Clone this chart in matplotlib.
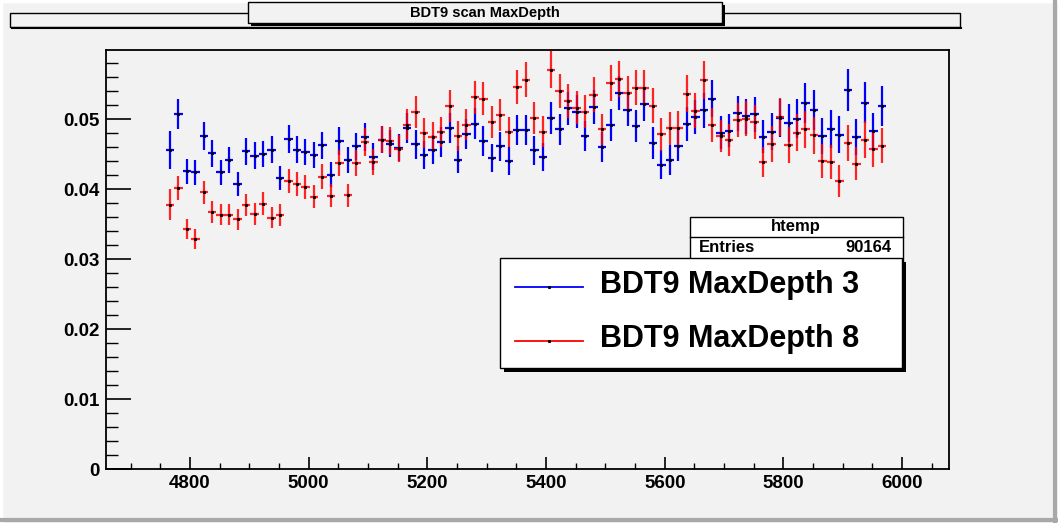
import numpy as np
import matplotlib
matplotlib.use("Agg")
import matplotlib.pyplot as plt
from matplotlib.patches import Rectangle
from matplotlib.lines import Line2D
from matplotlib.ticker import MultipleLocator

plt.rcParams['font.family'] = ['Liberation Sans', 'DejaVu Sans']

# ---------------- data ----------------
bin_low_edge = 4759.0
bin_width = 14.28

depth3 = [0.04557, 0.05071, 0.04257, 0.04243, 0.04757, 0.04514, 0.04243, 0.04424, 0.04076, 0.04543, 0.04481, 0.04505, 0.04567, 0.04162,
          0.04714, 0.04567, 0.04533, 0.04486, 0.04629, 0.04210, 0.04686, 0.04414, 0.04614, 0.04748, 0.04467, 0.04710, 0.04652, 0.04590,
          0.04876, 0.04643, 0.04486, 0.04567, 0.04676, 0.04876, 0.04424, 0.04786, 0.04933, 0.04686, 0.04443, 0.04614, 0.04400, 0.04843, 0.04843,
          0.04557, 0.04462, 0.05019, 0.04857, 0.05157, 0.05105, 0.04762, 0.05176, 0.04605, 0.04919, 0.05376, 0.05133, 0.04900, 0.05214,
          0.04667, 0.04352, 0.04419, 0.04624, 0.04938, 0.05033, 0.05129, 0.05295, 0.04810, 0.04833, 0.05086, 0.05043, 0.05071, 0.04752,
          0.04819, 0.05019, 0.04952, 0.05010, 0.05233, 0.05129, 0.04762, 0.04862, 0.04781, 0.05414, 0.04748, 0.05238, 0.04829, 0.05195]

depth8 = [0.03776, 0.04014, 0.03433, 0.03290, 0.03953, 0.03676, 0.03638, 0.03638, 0.03567, 0.03776, 0.03647, 0.03795, 0.03590, 0.03629,
          0.04119, 0.04076, 0.04033, 0.03890, 0.04181, 0.03905, 0.04376, 0.03914, 0.04376, 0.04676, 0.04390, 0.04710, 0.04686, 0.04581,
          0.04924, 0.05105, 0.04800, 0.04748, 0.04814, 0.05190, 0.04762, 0.04924, 0.05314, 0.05295, 0.04962, 0.05062, 0.04814, 0.05457, 0.05562,
          0.05019, 0.04819, 0.05710, 0.05405, 0.05257, 0.05167, 0.05105, 0.05352, 0.04857, 0.05519, 0.05571, 0.05376, 0.05448, 0.05448,
          0.05195, 0.04786, 0.04871, 0.04876, 0.05367, 0.05119, 0.05562, 0.04919, 0.04762, 0.04705, 0.04990, 0.05010, 0.04962, 0.04395,
          0.04643, 0.05033, 0.04629, 0.04805, 0.04857, 0.04771, 0.04405, 0.04386, 0.04119, 0.04662, 0.04367, 0.04710, 0.04576, 0.04624]

# relative size of the vertical error bars, read region by region
rel_err = ([0.059] + [0.042] * 13 + [0.042] * 14 + [0.045] * 15 +
           [0.046] * 14 + [0.049] * 14 + [0.055] * 14)

x_centers = bin_low_edge + (np.arange(len(depth3)) + 0.5) * bin_width
err3 = np.array(depth3) * np.array(rel_err)
err8 = np.array(depth8) * np.array(rel_err)

x_ticks = [4800, 5000, 5200, 5400, 5600, 5800, 6000]
y_ticks = [0, 0.01, 0.02, 0.03, 0.04, 0.05]
y_tick_labels = ['0', '0.01', '0.02', '0.03', '0.04', '0.05']

title = "BDT9 scan MaxDepth"
legend_labels = ["BDT9 MaxDepth 3", "BDT9 MaxDepth 8"]
stats_name = "htemp"
stats_entries = "90164"

# ---------------- figure ----------------
W, H = 1058, 523
BG = '#f2f2f2'
fig = plt.figure(figsize=(W / 100, H / 100), dpi=100, facecolor=BG)


def fx(px):
    return px / W


def fy(py):
    return 1 - py / H


def box(x0, y0, x1, y1, fc, shadow=0, lw=1.0, z=5):
    if shadow:
        fig.patches.append(Rectangle((fx(x0 + shadow), fy(y1 + shadow)), (x1 - x0) / W, (y1 - y0) / H,
                                     transform=fig.transFigure, fc='black', ec='none', zorder=z))
    fig.patches.append(Rectangle((fx(x0), fy(y1)), (x1 - x0) / W, (y1 - y0) / H,
                                 transform=fig.transFigure, fc=fc, ec='black', lw=lw, zorder=z + 0.1))


# canvas bevel
fig.lines.append(Line2D([fx(1), fx(1)], [fy(0), fy(521)], transform=fig.transFigure, color='white', lw=2.5))
fig.lines.append(Line2D([fx(0), fx(1056)], [fy(1), fy(1)], transform=fig.transFigure, color='white', lw=2.5))
fig.lines.append(Line2D([fx(1055), fx(1055)], [fy(2), fy(521)], transform=fig.transFigure, color='#a8a8a8', lw=3))
fig.lines.append(Line2D([fx(2), fx(1056)], [fy(520), fy(520)], transform=fig.transFigure, color='#a8a8a8', lw=3))

# main axes
ax = fig.add_axes([fx(105.7), fy(469), (949 - 105.7) / W, (469 - 50) / H])
ax.set_facecolor(BG)
ax.set_xlim(4658, 6079)
ax.set_ylim(0, 0.0599)

ax.errorbar(x_centers, depth3, xerr=bin_width / 2, yerr=err3, fmt='none',
            ecolor='#0000ff', elinewidth=1.6, capsize=0, zorder=3)
ax.errorbar(x_centers, depth8, xerr=bin_width / 2, yerr=err8, fmt='none',
            ecolor='#ff0000', elinewidth=1.6, capsize=0, alpha=0.85, zorder=4)
ax.plot(x_centers, depth3, ls='none', marker='s', ms=1.2, color='black', zorder=5)
ax.plot(x_centers, depth8, ls='none', marker='s', ms=1.2, color='black', zorder=5)

ax.set_xticks(x_ticks)
ax.set_xticklabels([str(t) for t in x_ticks])
ax.set_yticks(y_ticks)
ax.set_yticklabels(y_tick_labels)
ax.xaxis.set_minor_locator(MultipleLocator(50))
ax.yaxis.set_minor_locator(MultipleLocator(0.002))
ax.tick_params(axis='y', which='major', direction='in', length=18, width=1.2, pad=4.5, labelsize=13.5)
ax.tick_params(axis='y', which='minor', direction='in', length=8.5, width=1.0)
ax.tick_params(axis='x', which='major', direction='in', length=8.6, width=1.2, pad=4, labelsize=13.5)
ax.tick_params(axis='x', which='minor', direction='in', length=4.3, width=1.0)
for lab in ax.get_xticklabels() + ax.get_yticklabels():
    lab.set_fontweight('bold')
for s in ax.spines.values():
    s.set_linewidth(1.3)
    s.set_color('black')

# top long pave
box(10, 13, 960, 27, BG, shadow=0, lw=1.0, z=2)
fig.lines.append(Line2D([fx(12), fx(961)], [fy(27.5), fy(27.5)], transform=fig.transFigure, color='black', lw=1.5, zorder=2.5))

# title pave
box(248, 2, 722, 23, BG, shadow=2.5, lw=1.0, z=3)
fig.text(fx(485), fy(12.5), title, ha='center', va='center', fontsize=10.5, fontweight='bold', zorder=10)

# stats box
box(690, 217, 903, 262, 'white', shadow=0, lw=1.0, z=6)
fig.lines.append(Line2D([fx(690), fx(903)], [fy(237), fy(237)], transform=fig.transFigure, color='black', lw=1.0, zorder=6.5))
fig.text(fx(796), fy(227), stats_name, ha='center', va='center', fontsize=12, fontweight='bold', zorder=7)
fig.text(fx(699), fy(247.5), "Entries", ha='left', va='center', fontsize=12, fontweight='bold', zorder=7)
fig.text(fx(891), fy(247.5), stats_entries, ha='right', va='center', fontsize=12, fontweight='bold', zorder=7)

# legend
box(500, 258, 902, 368, 'white', shadow=4, lw=1.0, z=8)
legend_colors = ['#0000ff', '#ff0000']
legend_y = [287, 341]
for lab, col, yy in zip(legend_labels, legend_colors, legend_y):
    fig.lines.append(Line2D([fx(515), fx(583)], [fy(yy), fy(yy)], transform=fig.transFigure,
                            color=col, lw=1.3, zorder=9))
    fig.lines.append(Line2D([fx(549)], [fy(yy)], transform=fig.transFigure, ls='none', marker='s',
                            ms=1.2, color='black', zorder=9.5))
    fig.text(fx(600), fy(yy - 2), lab, ha='left', va='center', fontsize=22, fontweight='bold', zorder=10)

fig.savefig('out.png', dpi=100, facecolor=BG)
